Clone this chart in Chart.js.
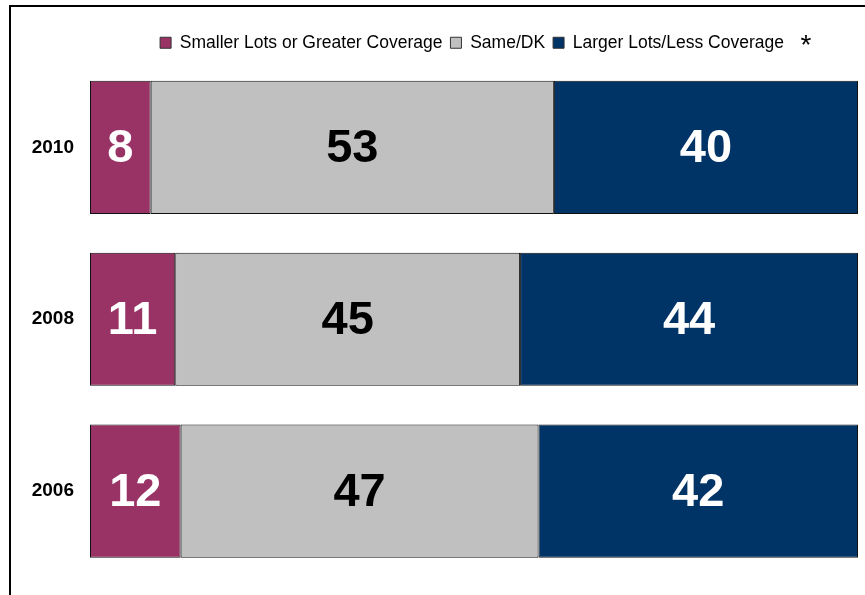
<!DOCTYPE html>
<html>
<head>
<meta charset="utf-8">
<script src="https://cdn.jsdelivr.net/npm/chart.js@4"></script>
<style>
  html, body { margin: 0; padding: 0; background: #fff; }
  #wrap { position: relative; width: 865px; height: 595px; }
</style>
</head>
<body>
<div id="wrap"><canvas id="lotsChart" width="865" height="595"></canvas></div>
<script>
// Years shown on the axis
const years = ['2010', '2008', '2006'];

// Shares per year (bars are read to 100%; labels show rounded values)
const smallerLots = [7.9, 11.1, 11.8];
const sameDK      = [52.5, 44.9, 46.6];
const largerLots  = [39.6, 44.0, 41.6];

const seriesNames = ['Smaller Lots or Greater Coverage', 'Same/DK', 'Larger Lots/Less Coverage'];

const COLORS = {
  smaller: '#993366',
  same:    '#c0c0c0',
  larger:  '#003366',
};
const LABEL_COLORS = ['#ffffff', '#000000', '#ffffff'];
const FONT = '"Liberation Sans", Arial, sans-serif';

// frame lines on the top and left edges, plus the asterisk note
const framePlugin = {
  id: 'frame',
  afterLayout(chart) {
    // legend sits a bit right of the canvas centre in the original
    chart.legend.left = 86;
  },
  beforeDraw(chart) {
    const ctx = chart.ctx;
    ctx.save();
    ctx.fillStyle = '#fff';
    ctx.fillRect(0, 0, chart.width, chart.height);
    ctx.strokeStyle = '#000';
    ctx.lineWidth = 2;
    ctx.beginPath();
    ctx.moveTo(10, chart.height);
    ctx.lineTo(10, 6);
    ctx.lineTo(chart.width, 6);
    ctx.stroke();
    ctx.restore();
  },
  afterDraw(chart) {
    const ctx = chart.ctx;
    ctx.save();
    ctx.fillStyle = '#000';
    ctx.font = '28px ' + FONT;
    ctx.textAlign = 'center';
    ctx.textBaseline = 'middle';
    ctx.fillText('*', 806, 46);
    ctx.restore();
  }
};

// value labels in the middle of each segment
const barLabels = {
  id: 'barLabels',
  afterDatasetsDraw(chart) {
    const ctx = chart.ctx;
    ctx.save();
    ctx.font = 'bold 47px ' + FONT;
    ctx.textAlign = 'center';
    ctx.textBaseline = 'middle';
    chart.data.datasets.forEach((ds, di) => {
      const meta = chart.getDatasetMeta(di);
      ctx.fillStyle = LABEL_COLORS[di];
      meta.data.forEach((bar, i) => {
        const p = bar.getCenterPoint();
        ctx.fillText(String(Math.round(ds.data[i])), p.x, p.y + 2);
      });
    });
    ctx.restore();
  }
};

new Chart(document.getElementById('lotsChart'), {
  type: 'bar',
  data: {
    labels: years,
    datasets: [
      { label: seriesNames[0], data: smallerLots, backgroundColor: COLORS.smaller },
      { label: seriesNames[1], data: sameDK,      backgroundColor: COLORS.same },
      { label: seriesNames[2], data: largerLots,  backgroundColor: COLORS.larger },
    ].map(d => Object.assign(d, {
      borderColor: '#111',
      borderWidth: 1,
      borderSkipped: false,
      barPercentage: 1,
      categoryPercentage: 0.775,
    })),
  },
  options: {
    indexAxis: 'y',
    responsive: false,
    animation: false,
    devicePixelRatio: 1,
    layout: { padding: { top: 26, left: 0, right: 7, bottom: 18 } },
    plugins: {
      tooltip: { enabled: false },
      legend: {
        position: 'top',
        align: 'center',
        labels: {
          color: '#000',
          font: { family: FONT, size: 17.5 },
          boxWidth: 11,
          boxHeight: 11,
          padding: 8,
          generateLabels(chart) {
            return chart.data.datasets.map((ds, i) => ({
              text: ds.label,
              fillStyle: ds.backgroundColor,
              strokeStyle: '#333',
              lineWidth: 1,
              datasetIndex: i,
              hidden: false,
            }));
          },
        },
      },
    },
    scales: {
      x: {
        stacked: true,
        display: false,
        min: 0,
        max: 100,
      },
      y: {
        stacked: true,
        grid: { display: false },
        border: { display: false },
        ticks: {
          color: '#000',
          padding: 8,
          font: { family: FONT, size: 19, weight: 'bold' },
        },
        afterFit(scale) {
          scale.width = 90;
          scale.paddingTop = 0;
          scale.paddingBottom = 0;
        },
      },
    },
  },
  plugins: [framePlugin, barLabels],
});
</script>
</body>
</html>
